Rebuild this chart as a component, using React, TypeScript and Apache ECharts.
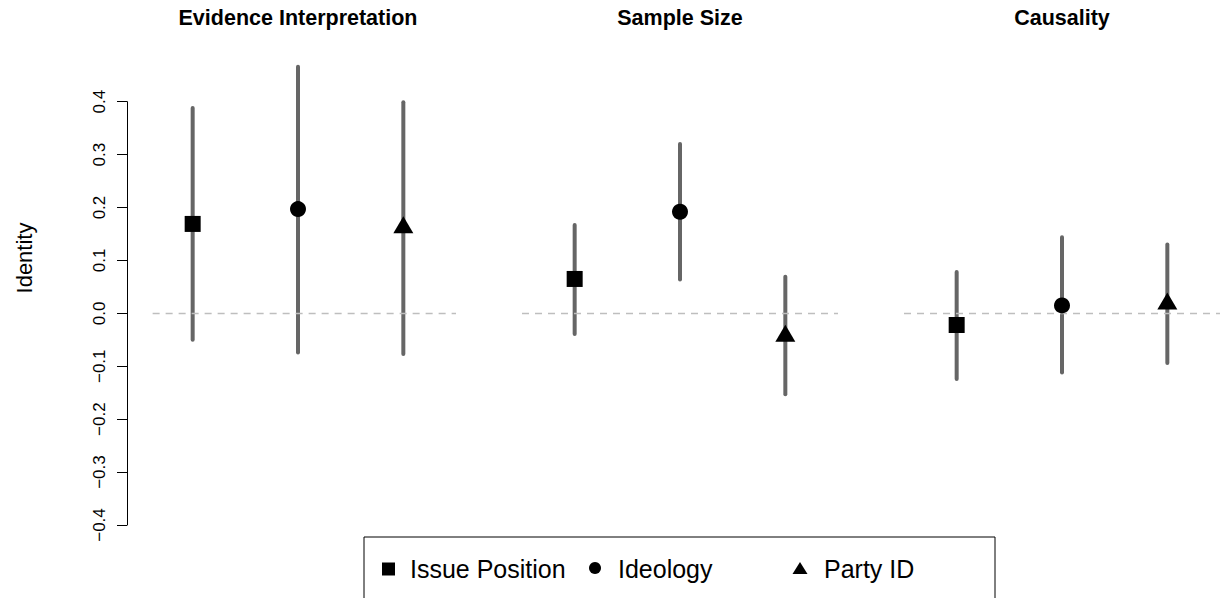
import React, { useEffect, useRef } from "react";
import * as echarts from "echarts";

// ---- Data ----
const panels = ["Evidence Interpretation", "Sample Size", "Causality"];
const groups = ["Issue Position", "Ideology", "Party ID"];
const groupSymbols = ["rect", "circle", "triangle"];

// point estimates per panel (Evidence Interpretation, Sample Size, Causality)
const issueEst = [0.169, 0.065, -0.022];
const ideologyEst = [0.197, 0.192, 0.015];
const partyEst = [0.162, -0.043, 0.018];

// lower bounds
const issueLow = [-0.05, -0.039, -0.124];
const ideologyLow = [-0.074, 0.064, -0.112];
const partyLow = [-0.077, -0.153, -0.094];

// upper bounds
const issueHigh = [0.388, 0.167, 0.078];
const ideologyHigh = [0.466, 0.32, 0.144];
const partyHigh = [0.399, 0.069, 0.13];

const yTicks = [-0.4, -0.3, -0.2, -0.1, 0.0, 0.1, 0.2, 0.3, 0.4];

const estimates = [issueEst, ideologyEst, partyEst];
const lows = [issueLow, ideologyLow, partyLow];
const highs = [issueHigh, ideologyHigh, partyHigh];

// ---- Layout ----
const FONT = "'Liberation Sans', Arial, Helvetica, sans-serif";
const panelLeft = [140, 522, 904];
const panelWidth = 316;
const gridTop = 101.7;
const gridHeight = 423.3;
const zeroLineStart = [0.62, 0.5, 0.5];

function buildOption() {
  const grid = panels.map((_, p) => ({
    left: panelLeft[p],
    width: panelWidth,
    top: gridTop,
    height: gridHeight,
  }));
  const xAxis = panels.map((_, p) => ({
    type: "value",
    gridIndex: p,
    min: 0.5,
    max: 3.5,
    show: false,
  }));
  const yAxis = panels.map((_, p) => ({
    type: "value",
    gridIndex: p,
    min: yTicks[0],
    max: yTicks[yTicks.length - 1],
    interval: 0.1,
    show: p === 0,
    offset: 13,
    axisLine: { show: true, lineStyle: { color: "#000", width: 1 } },
    axisTick: { show: true, length: 10, inside: false, lineStyle: { color: "#000", width: 1 } },
    axisLabel: {
      show: true,
      rotate: 90,
      fontSize: 17,
      fontFamily: FONT,
      color: "#000",
      margin: 19,
      formatter: (v: number) => {
        const s = Math.abs(v).toFixed(1);
        return v < -1e-9 ? "\u2212" + s : s;
      },
    },
    splitLine: { show: false },
  }));

  const series: any[] = [];
  panels.forEach((_, p) => {
    const barData = groups.map((_, g) => [g + 1, lows[g][p], highs[g][p]]);
    series.push({
      type: "custom",
      xAxisIndex: p,
      yAxisIndex: p,
      clip: false,
      silent: true,
      z: 2,
      data: barData,
      renderItem: (params: any, api: any) => {
        const x = api.value(0);
        const a = api.coord([x, api.value(1)]);
        const b = api.coord([x, api.value(2)]);
        return {
          type: "line",
          shape: { x1: a[0], y1: a[1], x2: b[0], y2: b[1] },
          style: { stroke: "#666666", lineWidth: 4, lineCap: "round" },
        };
      },
    });
    groups.forEach((name, g) => {
      const s: any = {
        type: "scatter",
        name,
        xAxisIndex: p,
        yAxisIndex: p,
        z: 5,
        silent: true,
        symbol: groupSymbols[g],
        symbolSize: g === 0 ? 16 : g === 1 ? 16 : [20, 17],
        symbolOffset: g === 2 ? [0, -2.8] : [0, 0],
        itemStyle: { color: "#000", opacity: 1 },
        data: [[g + 1, estimates[g][p]]],
      };
      if (g === 0) {
        s.markLine = {
          silent: true,
          symbol: "none",
          label: { show: false },
          lineStyle: { color: "#bebebe", width: 1.3, type: [7, 6] },
          data: [[{ coord: [zeroLineStart[p], 0] }, { coord: [3.5, 0] }]],
        };
      }
      series.push(s);
    });
  });

  const graphic: any[] = [];
  panels.forEach((title, p) => {
    graphic.push({
      type: "text",
      x: panelLeft[p] + panelWidth / 2,
      y: 18,
      style: {
        text: title,
        font: `bold 21.5px ${FONT}`,
        fill: "#000",
        align: "center",
        verticalAlign: "middle",
      },
    });
  });
  graphic.push({
    type: "text",
    x: 24,
    y: 258,
    rotation: Math.PI / 2,
    style: {
      text: "Identity",
      font: `22px ${FONT}`,
      fill: "#000",
      align: "center",
      verticalAlign: "middle",
    },
  });
  // legend box
  graphic.push({
    type: "rect",
    shape: { x: 364, y: 537, width: 631, height: 90 },
    style: { fill: "none", stroke: "#000", lineWidth: 1 },
  });
  const legY = 569;
  graphic.push({
    type: "rect",
    shape: { x: 382, y: legY - 6.5, width: 13, height: 13 },
    style: { fill: "#000" },
  });
  graphic.push({
    type: "circle",
    shape: { cx: 595, cy: legY - 1, r: 6 },
    style: { fill: "#000" },
  });
  graphic.push({
    type: "polygon",
    shape: { points: [[800, legY - 7], [807.5, legY + 5], [792.5, legY + 5]] },
    style: { fill: "#000" },
  });
  const legendTextX = [410, 618, 824];
  groups.forEach((name, g) => {
    graphic.push({
      type: "text",
      x: legendTextX[g],
      y: legY,
      style: {
        text: name,
        font: `25px ${FONT}`,
        fill: "#000",
        align: "left",
        verticalAlign: "middle",
      },
    });
  });

  return {
    animation: false,
    backgroundColor: "#fff",
    grid,
    xAxis,
    yAxis,
    series,
    graphic,
  };
}

export default function App() {
  const ref = useRef<HTMLDivElement>(null);
  useEffect(() => {
    if (!ref.current) return;
    const chart = echarts.init(ref.current, null, { renderer: "svg" });
    chart.setOption(buildOption() as any);
    return () => chart.dispose();
  }, []);
  return (
    <div
      ref={ref}
      style={{ position: "fixed", left: 0, top: 0, width: 1221, height: 598, background: "#fff" }}
    />
  );
}
